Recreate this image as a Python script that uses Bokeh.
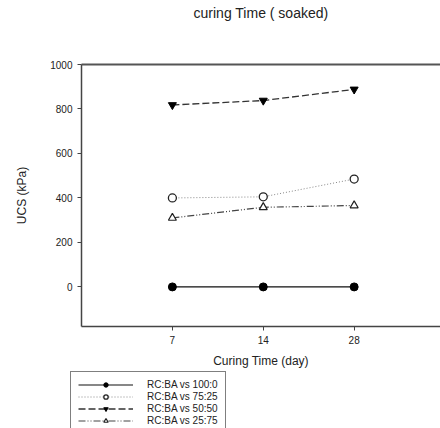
from bokeh.plotting import figure
from bokeh.models import Range1d, FixedTicker, LinearAxis, Legend, LegendItem
from bokeh.embed import file_html
from bokeh.resources import INLINE

days = ["7", "14", "28"]
s100_0 = [0, 0, 0]
s75_25 = [400, 405, 485]
s50_50 = [818, 838, 888]
s25_75 = [310, 358, 366]
names = ["RC:BA vs 100:0", "RC:BA vs 75:25", "RC:BA vs 50:50", "RC:BA vs 25:75"]
title = "curing Time ( soaked)"

xpos = [i + 1 for i in range(len(days))]
FONT = "Liberation Sans"

styles = [
    dict(line=dict(line_color="#111", line_width=1.2),
         marker=dict(marker="circle", size=8, fill_color="black", line_color="black")),
    dict(line=dict(line_color="#888", line_width=1, line_dash="1 2"),
         marker=dict(marker="circle", size=8, fill_color="white", line_color="#222", line_width=1.3)),
    dict(line=dict(line_color="#333", line_width=1.3, line_dash="7 3"),
         marker=dict(marker="inverted_triangle", size=8, fill_color="black", line_color="black")),
    dict(line=dict(line_color="#444", line_width=1.2, line_dash="7 2 1 2 1 2"),
         marker=dict(marker="triangle", size=8, fill_color="white", line_color="#222", line_width=1.2)),
]
series = [s100_0, s75_25, s50_50, s25_75]

p = figure(width=440, height=370, output_backend="svg", toolbar_location=None,
           x_range=Range1d(0, 3.95), y_range=Range1d(-178, 1000),
           min_border_left=81, min_border_right=0, min_border_top=64, min_border_bottom=44)
p.outline_line_color = None
p.grid.grid_line_color = None

for ax in (p.xaxis[0], p.yaxis[0]):
    ax.axis_line_color = "#444"
    ax.axis_line_width = 1.5
    ax.major_tick_line_color = "#444"
    ax.major_tick_out = 4
    ax.major_tick_in = 0
    ax.minor_tick_line_color = None
    ax.major_label_text_font = FONT
    ax.major_label_text_font_size = "10px"
    ax.major_label_text_color = "#222"
    ax.axis_label_text_font = FONT
    ax.axis_label_text_font_size = "12px"
    ax.axis_label_text_font_style = "normal"
    ax.axis_label_text_color = "#222"

p.xaxis.ticker = FixedTicker(ticks=xpos)
p.xaxis.major_label_overrides = {x: d for x, d in zip(xpos, days)}
p.xaxis.major_label_standoff = 5
p.xaxis.axis_label = "Curing Time (day)"
p.xaxis.axis_label_standoff = 7
p.yaxis.ticker = FixedTicker(ticks=[0, 200, 400, 600, 800, 1000])
p.yaxis.axis_label = "UCS (kPa)"
p.yaxis.axis_label_standoff = 18

# top border line that also carries the chart title
top = LinearAxis(ticker=FixedTicker(ticks=[]), axis_line_color="#555", axis_line_width=2,
                 major_tick_line_color=None, minor_tick_line_color=None,
                 axis_label=title, axis_label_standoff=44,
                 axis_label_text_font=FONT, axis_label_text_font_size="14px",
                 axis_label_text_font_style="normal", axis_label_text_color="#222")
p.add_layout(top, "above")

for s, st in zip(series, styles):
    p.line(xpos, s, **st["line"])
    p.scatter(xpos, s, **st["marker"])

# legend panel below the chart
q = figure(width=440, height=58, output_backend="svg", toolbar_location=None,
           x_range=Range1d(0, 1), y_range=Range1d(0, 1),
           x_axis_location=None, y_axis_location=None,
           min_border_left=0, min_border_right=0, min_border_top=0, min_border_bottom=0)
q.outline_line_color = None
q.grid.grid_line_color = None

items = []
for name, s, st in zip(names, series, styles):
    lr = q.line(xpos, s, visible=False, **st["line"])
    mr = q.scatter(xpos, s, visible=False, **st["marker"])
    items.append(LegendItem(label=name, renderers=[lr, mr]))

legend = Legend(items=items, location=(70, -6), orientation="vertical",
                border_line_color="black", border_line_width=1.2,
                background_fill_color="white", background_fill_alpha=1,
                label_text_font=FONT, label_text_font_size="10px", label_text_color="#222",
                label_height=11, glyph_height=11, glyph_width=55, label_standoff=14,
                spacing=1, padding=7, margin=0)
q.add_layout(legend, "center")

open("out.html", "w").write(file_html([p, q], INLINE))
